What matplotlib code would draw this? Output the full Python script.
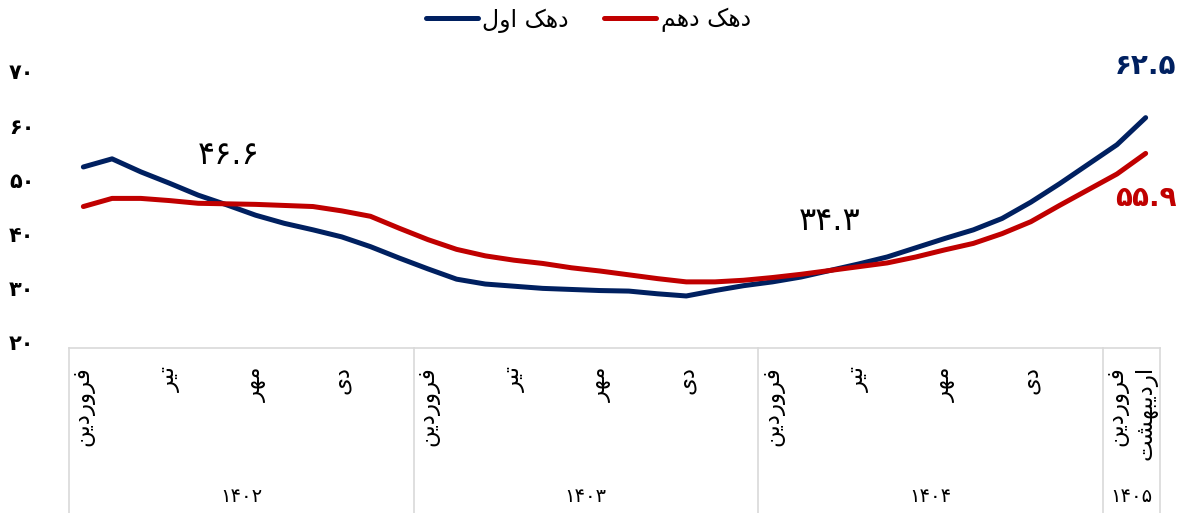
import matplotlib
matplotlib.use('Agg')
import matplotlib.pyplot as plt
import matplotlib.transforms as mtransforms

# monthly series, farvardin 1402 .. ordibehesht 1405
first_decile = [53.4, 54.9, 52.5, 50.4, 48.2, 46.4, 44.5, 43.0, 41.8, 40.5,
                38.7, 36.6, 34.6, 32.7, 31.8, 31.4, 31.0, 30.8, 30.6, 30.5,
                30.0, 29.6, 30.6, 31.5, 32.2, 33.1, 34.3, 35.5, 36.8, 38.5,
                40.2, 41.8, 43.9, 46.9, 50.3, 53.9, 57.5, 62.5]
tenth_decile = [46.1, 47.6, 47.6, 47.2, 46.7, 46.6, 46.5, 46.3, 46.1, 45.3,
                44.3, 42.1, 40.0, 38.2, 37.0, 36.2, 35.6, 34.8, 34.2, 33.5,
                32.8, 32.2, 32.2, 32.5, 33.0, 33.6, 34.3, 35.0, 35.7, 36.8,
                38.1, 39.3, 41.1, 43.3, 46.3, 49.2, 52.1, 55.9]
series_names = ['دهک اول', 'دهک دهم']

month_names = ['فروردین', 'اردیبهشت', 'خرداد', 'تیر', 'مرداد', 'شهریور',
               'مهر', 'آبان', 'آذر', 'دی', 'بهمن', 'اسفند']
year_names = ['1402', '1403', '1404', '1405']
year_len = [12, 12, 12, 2]
y_ticks = [20, 30, 40, 50, 60, 70]

# crossing points of the two lines (index, value)
cross_idx = [5.05, 26.0]
cross_val = [46.6, 34.3]

BLUE = '#002060'
RED = '#C00000'

# --- small persian shaper (matplotlib does no arabic shaping / bidi) ---
FORMS = {
    'ا': ('\uFE8D', '\uFE8E'),
    'آ': ('\uFE81', '\uFE82'),
    'د': ('\uFEA9', '\uFEAA'),
    'ذ': ('\uFEAB', '\uFEAC'),
    'ر': ('\uFEAD', '\uFEAE'),
    'ز': ('\uFEAF', '\uFEB0'),
    'و': ('\uFEED', '\uFEEE'),
    'ب': ('\uFE8F', '\uFE90', '\uFE91', '\uFE92'),
    'ت': ('\uFE95', '\uFE96', '\uFE97', '\uFE98'),
    'خ': ('\uFEA5', '\uFEA6', '\uFEA7', '\uFEA8'),
    'س': ('\uFEB1', '\uFEB2', '\uFEB3', '\uFEB4'),
    'ش': ('\uFEB5', '\uFEB6', '\uFEB7', '\uFEB8'),
    'ف': ('\uFED1', '\uFED2', '\uFED3', '\uFED4'),
    'ل': ('\uFEDD', '\uFEDE', '\uFEDF', '\uFEE0'),
    'م': ('\uFEE1', '\uFEE2', '\uFEE3', '\uFEE4'),
    'ن': ('\uFEE5', '\uFEE6', '\uFEE7', '\uFEE8'),
    'ه': ('\uFEE9', '\uFEEA', '\uFEEB', '\uFEEC'),
    'ک': ('\uFB8E', '\uFB8F', '\uFB90', '\uFB91'),
    'ی': ('\uFBFC', '\uFBFD', '\uFBFE', '\uFBFF'),
}


def shape_line(word):
    out = []
    for k, ch in enumerate(word):
        f = FORMS.get(ch)
        if f is None:
            out.append(ch)
            continue
        prev = word[k - 1] if k > 0 else ''
        nxt = word[k + 1] if k + 1 < len(word) else ''
        jp = prev in FORMS and len(FORMS[prev]) == 4
        jn = len(f) == 4 and nxt in FORMS
        if jp and jn:
            out.append(f[3])
        elif jp:
            out.append(f[1])
        elif jn:
            out.append(f[2])
        else:
            out.append(f[0])
    return ''.join(reversed(out))


def fa(text):
    return '\n'.join(shape_line(t) for t in text.split('\n'))


def fa_num(s):
    return str(s).translate(str.maketrans('0123456789', '۰۱۲۳۴۵۶۷۸۹'))


plt.rcParams['font.family'] = ['DejaVu Sans']

fig = plt.figure(figsize=(11.77, 5.13), dpi=100)
ax = fig.add_axes([69 / 1177, 165 / 513, 1091 / 1177, 271 / 513])

n = len(first_decile)
x = list(range(n))
ax.plot(x, first_decile, color=BLUE, lw=3.6, solid_capstyle='round',
        label=fa(series_names[0]))
ax.plot(x, tenth_decile, color=RED, lw=3.6, solid_capstyle='round',
        label=fa(series_names[1]))

ax.set_xlim(-0.5, n - 0.5)
ax.set_ylim(20, 70)
ax.set_yticks(y_ticks)
ax.set_yticklabels([fa_num(v) for v in y_ticks], fontsize=15, fontweight='bold')
ax.tick_params(axis='y', length=0, pad=25)
lift = mtransforms.ScaledTranslation(0, 4 / 72, fig.dpi_scale_trans)
for t in ax.get_yticklabels():
    t.set_transform(t.get_transform() + lift)

# month tick labels: every third month, all months of the short last year
labels = []
for yl in year_len:
    for m in range(yl):
        labels.append(fa(month_names[m]) if (m % 3 == 0 or yl < 12) else '')
ax.set_xticks(x)
ax.set_xticklabels(labels, rotation=90, fontsize=16.5, va='top',
                   linespacing=0.95)
ax.tick_params(axis='x', length=0, pad=13)

for s in ['top', 'right', 'left']:
    ax.spines[s].set_visible(False)
ax.spines['bottom'].set_color('#D9D9D9')
ax.spines['bottom'].set_linewidth(1.2)

# year group separators and labels below the axis
trans = mtransforms.blended_transform_factory(ax.transData, fig.transFigure)
start = -0.5
bottom_frac = 165 / 513
for yname, yl in zip(year_names, year_len):
    ax.plot([start, start], [0, bottom_frac], color='#D9D9D9', lw=1.2,
            transform=trans, clip_on=False)
    ax.text(start + yl / 2, 16 / 513, fa_num(yname), transform=trans,
            ha='center', va='center', fontsize=14)
    start += yl
ax.plot([start, start], [0, bottom_frac], color='#D9D9D9', lw=1.2,
        transform=trans, clip_on=False)

# value labels
for xi, v in zip(cross_idx, cross_val):
    ax.text(xi, v + 9.0, fa_num(v), ha='center', va='center', fontsize=23,
            color='black')
ax.annotate(fa_num(first_decile[-1]), (n - 1, first_decile[-1]),
            xytext=(0, 37), textcoords='offset points', ha='center',
            va='center', fontsize=20, fontweight='bold', color=BLUE,
            annotation_clip=False)
ax.annotate(fa_num(tenth_decile[-1]), (n - 1, tenth_decile[-1]),
            xytext=(0, -32), textcoords='offset points', ha='center',
            va='center', fontsize=20, fontweight='bold', color=RED,
            annotation_clip=False)

fig.legend(loc='center', bbox_to_anchor=(0.5, 0.961), ncol=2, frameon=False,
           fontsize=17, handlelength=2.2, columnspacing=1.5, handletextpad=0.2)

fig.savefig('out.png', dpi=100)
